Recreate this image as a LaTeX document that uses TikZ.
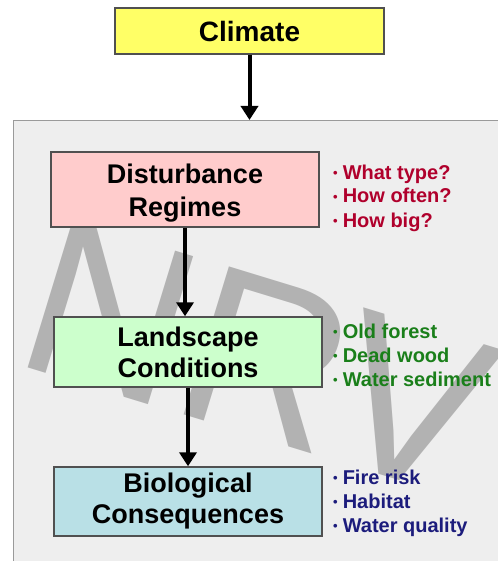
\documentclass[tikz,border=0pt]{standalone}
\usepackage{fontspec}
\setmainfont{Liberation Sans}
\usetikzlibrary{arrows.meta}
\definecolor{panelfill}{HTML}{EEEEEE}
\definecolor{panelline}{HTML}{9A9A9A}
\definecolor{boxline}{HTML}{505050}
\definecolor{climfill}{HTML}{FFFF66}
\definecolor{distfill}{HTML}{FFCCCC}
\definecolor{landfill}{HTML}{CCFFCC}
\definecolor{biofill}{HTML}{B9E0E6}
\definecolor{markgray}{HTML}{B2B2B2}
\definecolor{qred}{HTML}{B0002C}
\definecolor{qgreen}{HTML}{1A7F1A}
\definecolor{qblue}{HTML}{1C1C7C}
\newcommand{\bul}{{\fontsize{13}{13}\selectfont\raisebox{1.4pt}{•}}\hspace{5pt}}
\begin{document}
\begin{tikzpicture}[x=1pt,y=-1pt,
  stagebox/.style={draw=boxline, line width=1.4pt, inner sep=0pt, align=center,
    font=\fontsize{27}{31}\selectfont\bfseries},
  item/.style={anchor=base west, inner sep=0pt, font=\fontsize{20}{24}\selectfont\bfseries},
  flow/.style={line width=4pt, -{Triangle[width=17pt,length=14pt]}}]
\useasboundingbox (0,0) rectangle (497,561);
\fill[white] (0,0) rectangle (497,561);

% grey panel holding the three stages
\node[draw=panelline, line width=1pt, fill=panelfill, anchor=north west,
  minimum width=520pt, minimum height=480pt, inner sep=0pt] (panel) at (13,120) {};

% watermark behind the stages
\begin{scope}
  \clip (13.5,120.5) rectangle (497,561);
  \node[anchor=base west, inner sep=0pt, rotate=-17, text=markgray,
    font=\fontsize{225}{225}\selectfont] (mark) at (10.7,362) {NRV};
\end{scope}

% stages
\node[stagebox, fill=climfill, minimum width=269pt, minimum height=46pt,
  font=\fontsize{28}{32}\selectfont\bfseries] (clim) at (249.5,31) {Climate};
\node[stagebox, fill=distfill, minimum width=268pt, minimum height=75pt,
  font=\fontsize{27}{33}\selectfont\bfseries] (dist) at (185,189.5)
  {\rule{0pt}{26pt}Disturbance\\Regimes};
\node[stagebox, fill=landfill, minimum width=268pt, minimum height=70pt] (land) at (188,352) {Landscape\\Conditions};
\node[stagebox, fill=biofill, minimum width=268pt, minimum height=69pt] (bio) at (188,501.5) {Biological\\Consequences};

% flow arrows
\draw[flow] (clim.south) -- (clim.south |- panel.north);
\draw[flow] (dist.south) -- (dist.south |- land.north);
\draw[flow] (land.south) -- (land.south |- bio.north);

% questions and outcomes
\node[item, text=qred] (d1) at (333,179) {\bul What type?};
\node[item, text=qred] (d2) at (333,203) {\bul How often?};
\node[item, text=qred] (d3) at (333,227) {\bul How big?};
\node[item, text=qgreen] (l1) at (333,338) {\bul Old forest};
\node[item, text=qgreen] (l2) at (333,362) {\bul Dead wood};
\node[item, text=qgreen] (l3) at (333,386) {\bul Water sediment};
\node[item, text=qblue] (b1) at (333,484) {\bul Fire risk};
\node[item, text=qblue] (b2) at (333,508) {\bul Habitat};
\node[item, text=qblue] (b3) at (333,532) {\bul Water quality};
\end{tikzpicture}
\end{document}
